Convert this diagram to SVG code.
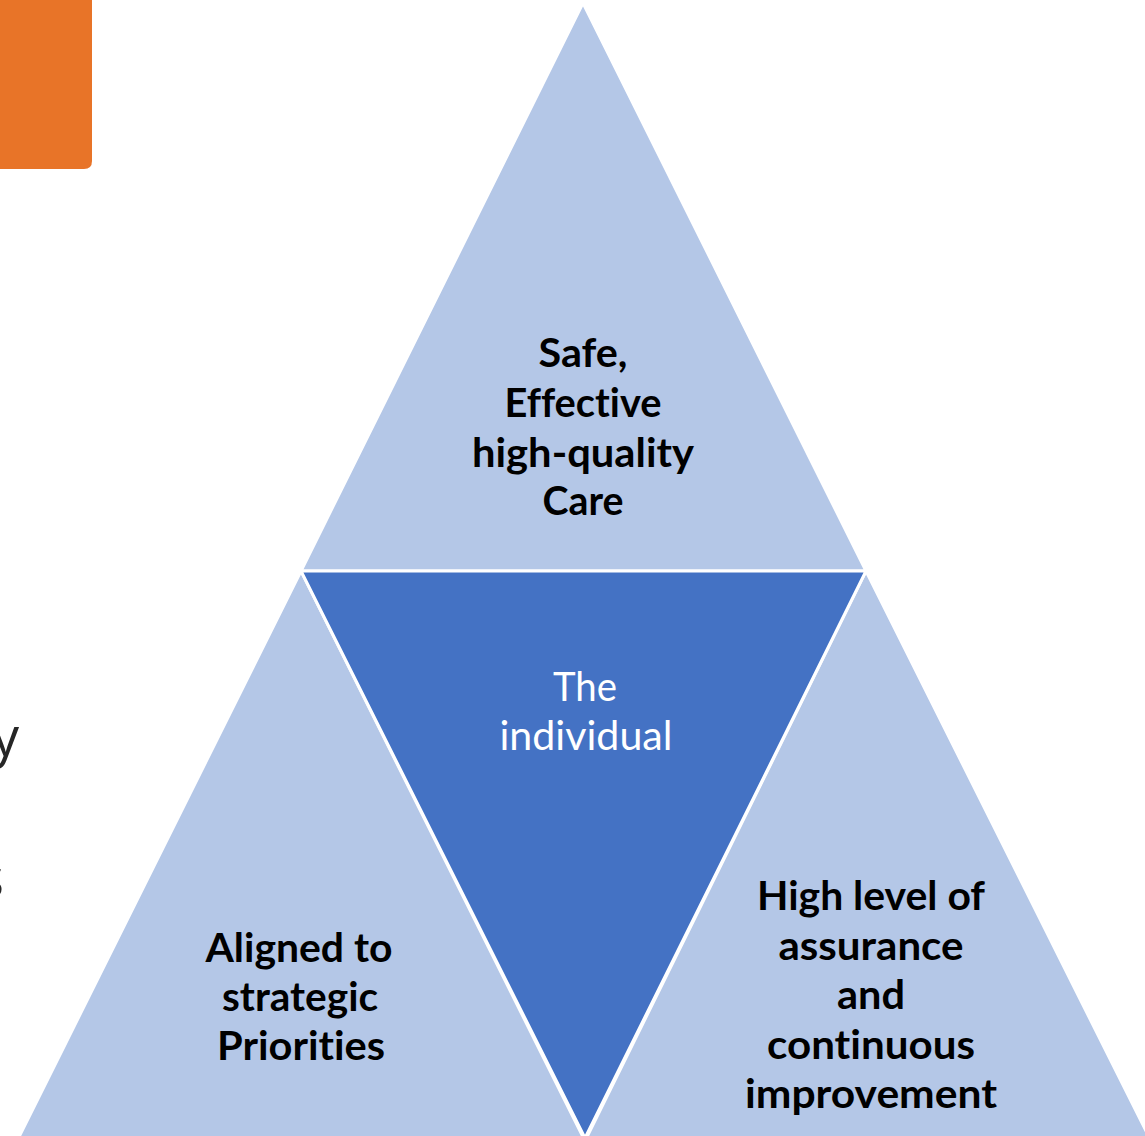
<svg xmlns="http://www.w3.org/2000/svg" width="1145" height="1136" viewBox="0 0 1145 1136">
  <style>
    .light { fill: #B4C7E7; stroke: #FFFFFF; stroke-width: 3; stroke-linejoin: miter; }
    .dark { fill: #4472C4; stroke: #FFFFFF; stroke-width: 3; }
    .lbl { font-family: Lato, "Open Sans", "Liberation Sans", sans-serif; font-weight: bold; font-size: 41px; fill: #000000; text-anchor: middle; font-variant-ligatures: none; font-feature-settings: "liga" 0, "clig" 0; }
    .lblw { font-family: Lato, "Open Sans", "Liberation Sans", sans-serif; font-weight: normal; font-size: 41px; fill: #FFFFFF; text-anchor: middle; font-variant-ligatures: none; font-feature-settings: "liga" 0, "clig" 0; }
    .frag { font-family: "Open Sans", "Liberation Sans", sans-serif; font-size: 54px; fill: #262626; text-anchor: end; }
  </style>
  <rect width="1145" height="1136" fill="#FFFFFF"/>
  <path d="M0,0 H92 V161 Q92,169 84,169 H0 Z" fill="#E87428"/>
  <text class="frag" x="19" y="756">y</text>
  <text class="frag" x="4" y="897">s</text>

  <g id="node-top">
    <polygon class="light" points="583,3 301,571 866,571"/>
    <text class="lbl" x="583" y="367" textLength="89" lengthAdjust="spacingAndGlyphs">Safe,</text>
    <text class="lbl" x="583" y="417" textLength="157" lengthAdjust="spacingAndGlyphs">Effective</text>
    <text class="lbl" x="583" y="467" textLength="222" lengthAdjust="spacingAndGlyphs">high-quality</text>
    <text class="lbl" x="583" y="515" textLength="81" lengthAdjust="spacingAndGlyphs">Care</text>
  </g>
  <g id="node-left">
    <polygon class="light" points="301,571 17,1141 585,1141"/>
    <text class="lbl" x="299" y="962" textLength="187" lengthAdjust="spacingAndGlyphs">Aligned to</text>
    <text class="lbl" x="300" y="1011" textLength="156" lengthAdjust="spacingAndGlyphs">strategic</text>
    <text class="lbl" x="301" y="1060" textLength="168" lengthAdjust="spacingAndGlyphs">Priorities</text>
  </g>
  <g id="node-right">
    <polygon class="light" points="866,571 585,1141 1151,1141"/>
    <text class="lbl" x="871" y="910" textLength="228" lengthAdjust="spacingAndGlyphs">High level of</text>
    <text class="lbl" x="871" y="960" textLength="185" lengthAdjust="spacingAndGlyphs">assurance</text>
    <text class="lbl" x="871" y="1009" textLength="68" lengthAdjust="spacingAndGlyphs">and</text>
    <text class="lbl" x="871" y="1059" textLength="208" lengthAdjust="spacingAndGlyphs">continuous</text>
    <text class="lbl" x="871" y="1108" textLength="252" lengthAdjust="spacingAndGlyphs">improvement</text>
  </g>
  <g id="node-center">
    <polygon class="dark" points="301,571 866,571 585,1138"/>
    <text class="lblw" x="585" y="701" textLength="64" lengthAdjust="spacingAndGlyphs">The</text>
    <text class="lblw" x="586" y="750" textLength="173" lengthAdjust="spacingAndGlyphs">individual</text>
  </g>
  <g id="connectors"/>
</svg>
